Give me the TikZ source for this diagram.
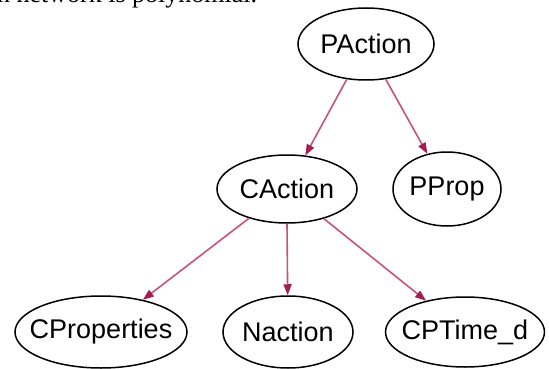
\documentclass[tikz,border=0pt]{standalone}
\usepackage{fontspec}
\setmainfont{Liberation Sans}
\newfontfamily\capfont{Liberation Serif}
\usetikzlibrary{shapes.geometric,arrows.meta}
\definecolor{edgepink}{RGB}{200,82,122}
\definecolor{tippink}{RGB}{160,30,80}
\newcommand{\nlabel}[1]{\makebox[0pt]{#1}}
\tikzset{
  var/.style={ellipse, draw=black, line width=1.5pt, inner sep=0pt, font=\fontsize{27}{30}\selectfont},
  dep/.style={draw=edgepink, line width=1.6pt, -{Triangle[length=11pt,width=8pt,fill=tippink,color=tippink]}}
}
\begin{document}
\begin{tikzpicture}[x=1pt,y=-1pt]
                \useasboundingbox (0,0) rectangle (549,369);
                \node[anchor=base west, inner sep=0pt, font=\capfont\fontsize{26}{30}\selectfont] (cap) at (-3,3) {n network is polynomial.};
                \node[var, minimum width=136pt, minimum height=72pt] (PAction) at (366,44) {\nlabel{PAction}};
                \node[var, minimum width=140pt, minimum height=68pt] (CAction) at (287,189) {\nlabel{CAction}};
                \node[var, minimum width=108pt, minimum height=74pt] (PProp) at (447,189) {\nlabel{PProp}};
                \node[var, minimum width=172pt, minimum height=72pt] (CProperties) at (101,332) {\nlabel{CProperties}};
                \node[var, minimum width=130pt, minimum height=72pt] (Naction) at (288,332) {\nlabel{Naction}};
                \node[var, minimum width=159pt, minimum height=70pt] (CPTime) at (465,332) {\nlabel{CPTime\_d}};

                \draw[dep] (PAction) to (CAction); \draw[dep] (PAction) to (PProp);
                \draw[dep] (CAction) to (CProperties); \draw[dep] (CAction.south) to (Naction); \draw[dep] (CAction) to (CPTime);
            \end{tikzpicture}
\end{document}
